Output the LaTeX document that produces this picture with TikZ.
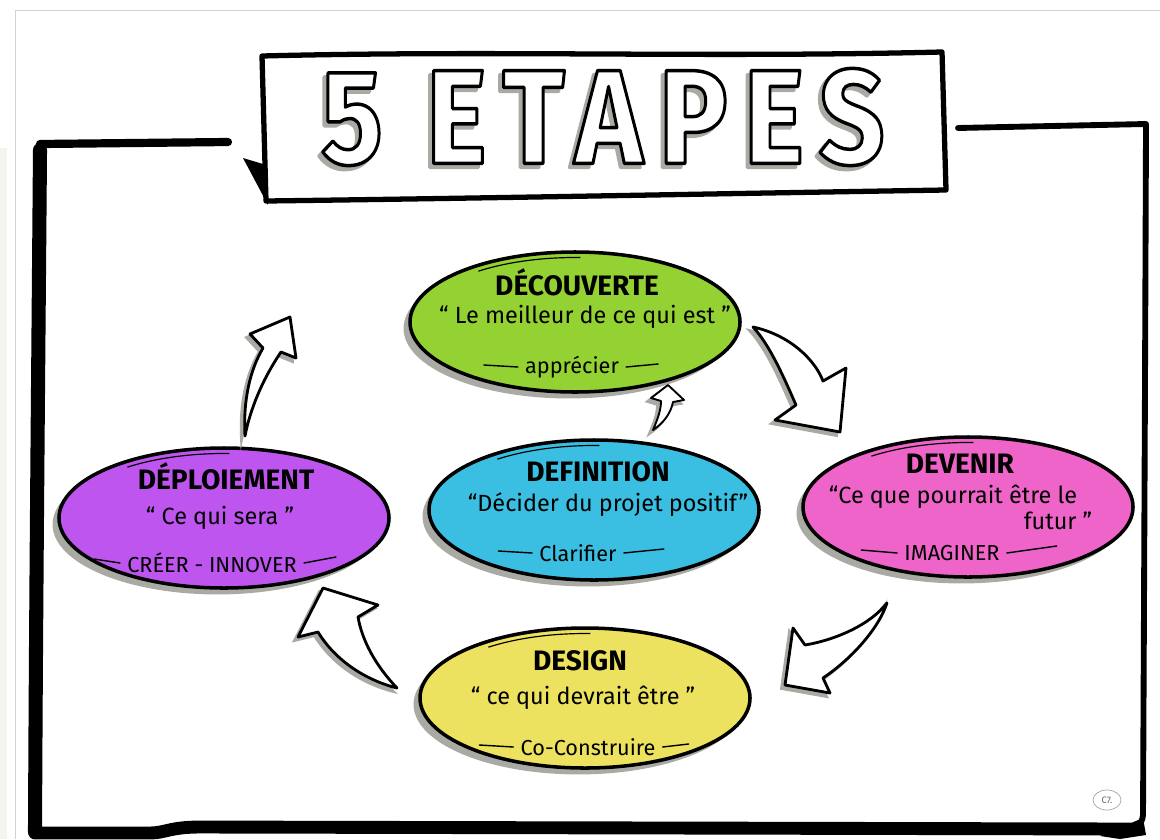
\documentclass[tikz,border=0pt]{standalone}
\usepackage{fontspec}
\setmainfont{Fira Sans}
\newfontfamily\titlefont{Fira Sans}[LetterSpace=14]
\usepackage{graphicx}
\usetikzlibrary{shapes.geometric,shadows}
\definecolor{cgreen}{RGB}{147,210,50}
\definecolor{ccyan}{RGB}{58,190,225}
\definecolor{cpink}{RGB}{238,100,200}
\definecolor{cpurple}{RGB}{190,85,238}
\definecolor{cyellow}{RGB}{237,226,95}
\definecolor{cstrip}{RGB}{244,244,238}
\definecolor{cshadow}{RGB}{170,170,165}
\makeatletter
\newcommand\strokeblackoutline{\pgfsys@invoke{ 2 Tr 2.6 w 0 0 0 RG 1 j }}
\newcommand\strokesameoutline{\pgfsys@invoke{ 2 Tr 2.6 w 1 j }}
\makeatother
\begin{document}
\begin{tikzpicture}[x=0.03cm,y=-0.03cm,
  frameline/.style={line width=#1, black, line cap=round, line join=round},
  stage/.style={ellipse, draw=black, line width=3pt, minimum width=9.9cm, minimum height=4.2cm, inner sep=0pt,
     drop shadow={shadow xshift=-5.5pt, shadow yshift=-5.5pt, fill=cshadow, opacity=1}},
  ttl/.style={font=\fontsize{24}{26}\selectfont\bfseries, inner sep=0pt},
  quote/.style={font=\fontsize{20}{23}\selectfont, inner sep=0pt},
  verb/.style={font=\fontsize{18.5}{21}\selectfont, inner sep=0pt},
  dashln/.style={line width=1.2pt, line cap=round},
  toparc/.style={line width=1pt},
  bigarrow/.style={fill=white, draw=black, line width=2.4pt, line join=round,
     preaction={fill=cshadow, draw=cshadow, line width=2.4pt, transform canvas={shift={(-3.5,3.5)}}}}
]
\useasboundingbox (0,0) rectangle (1160,839);
\fill[white] (0,0) rectangle (1160,839);
\fill[cstrip] (0,148) rectangle (7,839);
\draw[gray!35, line width=0.8pt] (15,839) -- (15,10) -- (1160,10);

% outer frame
\draw[frameline=7pt] (40,144) -- (228,142);
\draw[frameline=12pt] (40,150) .. controls (38,400) and (36,600) .. (35,832);
\draw[frameline=11pt] (35,833) -- (150,833) .. controls (165,833) and (170,827) .. (200,827) -- (1130,829);
\draw[frameline=5pt] (958,128) -- (1146,124) .. controls (1145,400) and (1144,600) .. (1143,815) .. controls (1142,826) and (1135,828) .. (1125,829);
\fill[black] (1143,818) -- (1146,835) -- (1120,839) -- (1100,836) -- cycle;

% title box
\fill[black] (243,158) -- (263,164) -- (268,205) -- cycle;
\draw[line width=4.5pt, fill=white, line join=round] (262,56) .. controls (500,50) and (700,58) .. (942,52) -- (946,190) .. controls (700,194) and (500,198) .. (266,201) -- cycle;
\node[inner sep=0pt] (titleshadow) at (599,121) {\resizebox{16.9cm}{2.85cm}{\titlefont\bfseries\fontsize{100}{100}\selectfont\color{cshadow}\strokesameoutline 5 ETAPES}};
\node[inner sep=0pt] (title) at (603,117) {\resizebox{16.9cm}{2.85cm}{\titlefont\bfseries\fontsize{100}{100}\selectfont\color{white}\strokeblackoutline 5 ETAPES}};

% stages
\node[stage, fill=cgreen] (dec) at (575,322) {};
\node[stage, fill=ccyan] (def) at (594,510) {};
\node[stage, fill=cpink] (dev) at (968,507) {};
\node[stage, fill=cpurple] (dep) at (224,518) {};
\node[stage, fill=cyellow] (des) at (585,698) {};

\foreach \n in {dec,def,dev,dep,des}{
  \draw[toparc] (\n.center) ++(-128:157 and 64.5) arc[start angle=-128, end angle=-88, x radius=157, y radius=64.5];
}

% Découverte
\node[ttl] (decT) at (577,282) {DÉCOUVERTE};
\node[quote] (decQ) at (585,317) {“ Le meilleur de ce qui est ”};
\node[verb] (decV) at (572,367) {apprécier};
\draw[dashln] ([xshift=-6pt]decV.west) -- ++(-34,-2);
\draw[dashln] ([xshift=6pt]decV.east) -- ++(32,-3);

% Définition
\node[ttl] (defT) at (598,472) {DEFINITION};
\node[quote] (defQ) at (608,505) {“Décider du projet positif”};
\node[verb] (defV) at (578,553) {Clarifier};
\draw[dashln] ([xshift=-6pt]defV.west) -- ++(-34,-2);
\draw[dashln] ([xshift=6pt]defV.east) -- ++(40,-4);

% Devenir
\node[ttl] (devT) at (960,464) {DEVENIR};
\node[quote] (devQ1) at (953,497) {“Ce que pourrait être le};
\node[quote] (devQ2) at (1058,521) {futur ”};
\node[verb] (devV) at (952,553) {IMAGINER};
\draw[dashln] ([xshift=-6pt]devV.west) -- ++(-36,-3);
\draw[dashln] ([xshift=6pt]devV.east) -- ++(50,-7);

% Déploiement
\node[ttl] (depT) at (226,476) {DÉPLOIEMENT};
\node[quote] (depQ) at (220,518) {“ Ce qui sera ”};
\node[verb] (depV) at (212,563) {CRÉER - INNOVER};
\draw[dashln] ([xshift=-6pt]depV.west) -- ++(-26,-4);
\draw[dashln] ([xshift=6pt]depV.east) -- ++(32,-6);

% Design
\node[ttl] (desT) at (580,661) {DESIGN};
\node[quote] (desQ) at (583,698) {“ ce qui devrait être ”};
\node[verb] (desV) at (588,747) {Co-Construire};
\draw[dashln] ([xshift=-6pt]desV.west) -- ++(-34,-2);
\draw[dashln] ([xshift=6pt]desV.east) -- ++(26,-3);

% block arrows
\draw[bigarrow] (753,327) .. controls (790,335) and (815,360) .. (823,381) -- (846,368) -- (840,432) -- (775,420) -- (796,405) .. controls (785,380) and (770,345) .. (753,327) -- cycle;
\draw[bigarrow] (887,603) .. controls (870,625) and (835,640) .. (805,645) -- (793,628) -- (785,685) -- (830,693) -- (823,678) .. controls (850,660) and (878,630) .. (887,603) -- cycle;
\draw[bigarrow] (397,688) .. controls (375,665) and (362,640) .. (358,617) -- (378,605) -- (323,588) -- (298,637) -- (318,632) .. controls (335,660) and (365,680) .. (397,688) -- cycle;
\draw[bigarrow] (245,436) .. controls (243,400) and (250,370) .. (263,348) -- (250,334) -- (290,317) -- (296,358) -- (281,352) .. controls (262,380) and (250,410) .. (245,436) -- cycle;
\draw[bigarrow, line width=1.6pt] (653,430) .. controls (658,418) and (661,410) .. (661,401) -- (651,398) -- (668,385) -- (684,400) -- (673,402) .. controls (671,412) and (665,422) .. (653,430) -- cycle;

% signature
\draw[gray!70, line width=0.6pt] (1107,800) ellipse [x radius=14, y radius=10];
\node[gray!80!black, font=\fontsize{8}{8}\selectfont, inner sep=0pt] (sig) at (1107,800) {C7.};
\end{tikzpicture}
\end{document}
